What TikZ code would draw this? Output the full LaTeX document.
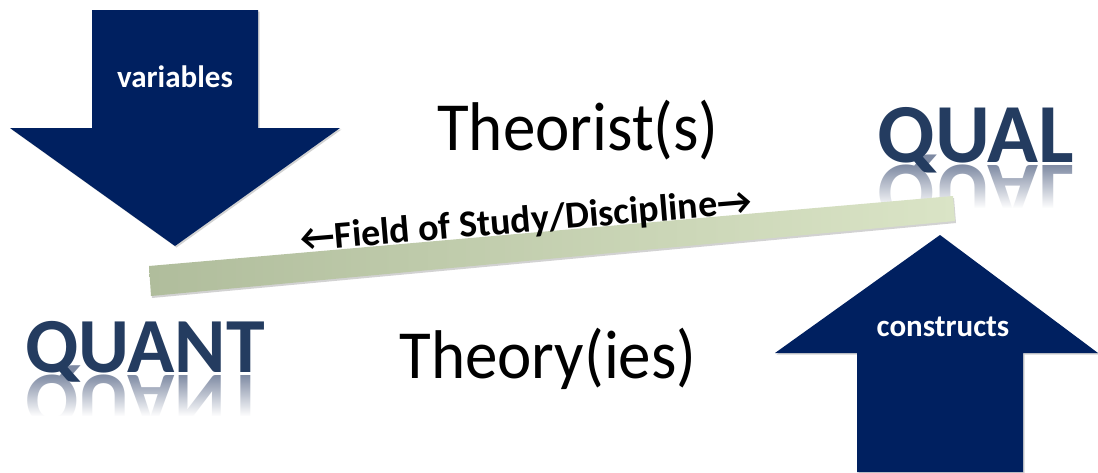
\documentclass[tikz,border=0pt]{standalone}
\usepackage{fontspec}
\setmainfont{Carlito}
\usetikzlibrary{shadows,fadings}
\definecolor{navy}{RGB}{0,32,96}
\definecolor{qblue}{RGB}{36,60,96}
\definecolor{qrefl}{RGB}{125,137,162}
\definecolor{barL}{RGB}{176,189,156}
\definecolor{barR}{RGB}{218,228,198}
\tikzfading[name=coverfade, top color=transparent!100, bottom color=transparent!0]
\tikzset{
  bigarrow/.style={fill=navy, draw=none, drop shadow={opacity=0.35, shadow xshift=1.5pt, shadow yshift=-1.5pt}},
  arrowlabel/.style={text=white, font=\bfseries\fontsize{31}{31}\selectfont, anchor=base},
  bigword/.style={text=black, font=\fontsize{65}{65}\selectfont, anchor=base, yscale=1.06},
  paradigm/.style={text=qblue, font=\bfseries\fontsize{78}{78}\selectfont, anchor=base},
  reflection/.style={text=qrefl, font=\bfseries\fontsize{78}{78}\selectfont, anchor=base, yscale=-1},
  fadecover/.style={fill=white, path fading=coverfade},
  fieldbar/.style={left color=barL, right color=barR, draw=none, drop shadow={opacity=0.35, shadow xshift=1pt, shadow yshift=-2pt}},
  fieldlabel/.style={text=black, font=\bfseries\fontsize{38}{38}\selectfont, rotate=4.8}
}
\begin{document}
\begin{tikzpicture}[x=1pt,y=-1pt]
\useasboundingbox (0,0) rectangle (1098,472);
\fill[white] (0,0) rectangle (1098,472);

% reflections
\node[reflection] (quantrefl) at (145,375) {QUANT};
\path[fadecover] (15,374) rectangle (280,416);
\fill[white] (15,415.5) rectangle (280,440);
\node[reflection, font=\bfseries\fontsize{84}{84}\selectfont] (qualrefl) at (976,165) {QUAL};
\path[fadecover] (870,164) rectangle (1090,208);
\fill[white] (870,207.5) rectangle (1090,232);

% left arrow (down)
\path[bigarrow] (92,10) -- (258,10) -- (258,128) -- (340,128) -- (175,246) -- (10,128) -- (92,128) -- cycle;
\node[arrowlabel] (variables) at (175,87) {variables};

% right arrow (up)
\path[bigarrow] (940,235) -- (1098,353) -- (1023,353) -- (1023,472) -- (857,472) -- (857,353) -- (775,353) -- cycle;
\node[arrowlabel] (constructs) at (943,336) {constructs};

% bar
\path[fieldbar] (149,266) -- (953,196) -- (955,221) -- (151,296) -- cycle;
\node[fieldlabel] (field) at (526,222) {←Field of Study/Discipline→};

% words
\node[bigword] (theorists) at (578,150) {Theorist(s)};
\node[bigword] (theories) at (548,378) {Theory(ies)};
\node[paradigm] (quant) at (145,372) {QUANT};
\node[paradigm, font=\bfseries\fontsize{84}{84}\selectfont] (qual) at (976,162) {QUAL};
\end{tikzpicture}
\end{document}
